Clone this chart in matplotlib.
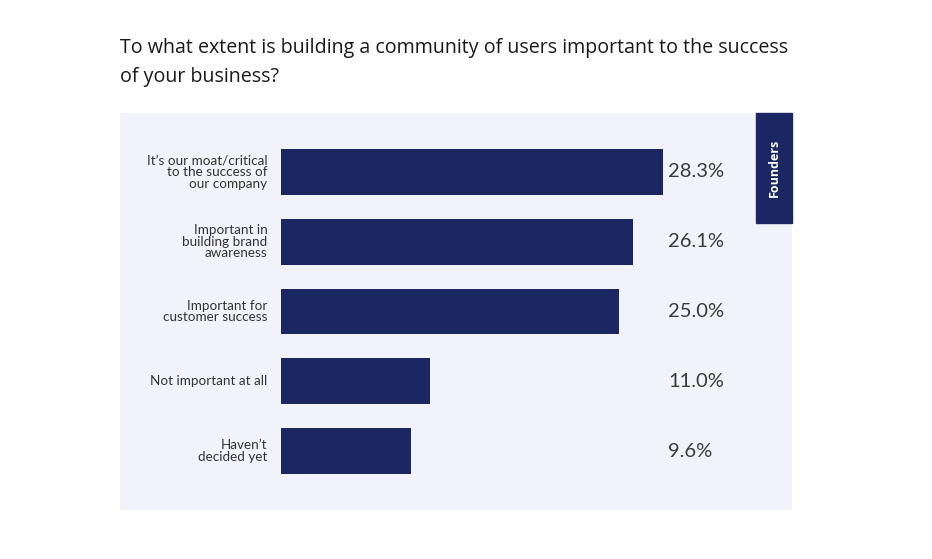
import matplotlib.pyplot as plt
from matplotlib.patches import Rectangle

# Datos
categories = [
    "It's our moat/critical\nto the success of\nour company",
    "Important in\nbuilding brand\nawareness",
    "Important for\ncustomer success",
    "Not important at all",
    "Haven't\ndecided yet",
]
values = [28.3, 26.1, 25.0, 11.0, 9.6]
value_labels = ["28.3%", "26.1%", "25.0%", "11.0%", "9.6%"]

title = ("To what extent is building a community of users important to the success\n"
         "of your business?")

W, H = 932, 559
bar_color = "#1b2762"
panel_color = "#f2f3fa"

plt.rcParams['font.family'] = ['Lato', 'DejaVu Sans']

fig = plt.figure(figsize=(W / 100, H / 100), dpi=100)
fig.patch.set_facecolor("white")

# Panel de fondo
panel = fig.add_axes([120 / W, 1 - 510 / H, (792 - 120) / W, (510 - 113) / H])
panel.set_facecolor(panel_color)
panel.set_xticks([])
panel.set_yticks([])
for s in panel.spines.values():
    s.set_visible(False)

# Eje de barras
ax = fig.add_axes([281 / W, 1 - 510 / H, (792 - 281) / W, (510 - 113) / H])
ax.patch.set_alpha(0)
ypos = list(range(len(values)))
ax.barh(ypos, values, height=0.657, color=bar_color)
ax.set_xlim(0, (792 - 281) / 13.5)
ax.set_ylim(4.843, -0.843)
ax.set_xticks([])
ax.set_yticks([])
for s in ax.spines.values():
    s.set_visible(False)

for y, lab in zip(ypos, categories):
    ax.text(-1.0, y, lab.replace("'", "\u2019"), ha="right", va="center",
            fontsize=9.7, color="#333333", linespacing=0.98)

for y, lab in zip(ypos, value_labels):
    ax.text((668 - 281) / 13.5, y, lab, ha="left", va="center",
            fontsize=14.5, color="#3a3a3a")

# Etiqueta "Founders"
fig.patches.append(Rectangle((756 / W, 1 - 223 / H), 36 / W, 110 / H,
                             transform=fig.transFigure, color=bar_color))
fig.text(774 / W, 1 - 168 / H, "Founders", rotation=90, ha="center", va="center",
         color="white", fontsize=9, fontweight="bold",
         family=['Open Sans', 'DejaVu Sans'])

fig.text(120 / W, 1 - 38 / H, title, ha="left", va="top", fontsize=14.1,
         color="#1a1a1a", linespacing=1.6, family=['Open Sans', 'DejaVu Sans'])

fig.savefig("out.png", dpi=100)
